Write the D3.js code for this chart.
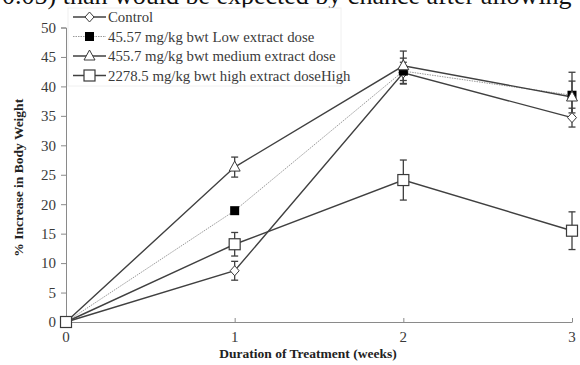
<!DOCTYPE html>
<html>
<head>
<meta charset="utf-8">
<script src="https://cdn.jsdelivr.net/npm/d3@7"></script>
<style>
  html, body { margin: 0; padding: 0; background: #fff; }
  svg { display: block; }
</style>
</head>
<body>
<svg id="chart" width="580" height="365"></svg>
<script>
// Weeks of treatment on the x axis
const weeks = [0, 1, 2, 3];

// Mean % increase in body weight per group
const controlValues = [0, 8.7, 42.3, 34.7];
const lowValues     = [0, 18.9, 42.6, 38.5];
const mediumValues  = [0, 26.3, 43.5, 38.2];
const highValues    = [0, 13.2, 24.1, 15.5];

// Error (± SEM) per group
const controlErr = [0, 1.6, 1.8, 1.6];
const lowErr     = [0, 0, 2.2, 3.9];
const mediumErr  = [0, 1.7, 2.5, 2.7];
const highErr    = [0, 2.0, 3.4, 3.2];

const seriesNames = [
  "Control",
  "45.57 mg/kg bwt Low extract dose",
  "455.7 mg/kg bwt medium extract dose",
  "2278.5 mg/kg bwt high extract doseHigh"
];

const yTicks = [0, 5, 10, 15, 20, 25, 30, 35, 40, 45, 50];
const xTicks = [0, 1, 2, 3];

const series = [
  { name: seriesNames[0], values: controlValues, err: controlErr, marker: "diamond", dotted: false },
  { name: seriesNames[1], values: lowValues, err: lowErr, marker: "filled", dotted: true },
  { name: seriesNames[2], values: mediumValues, err: mediumErr, marker: "triangle", dotted: false },
  { name: seriesNames[3], values: highValues, err: highErr, marker: "square", dotted: false }
];

const svg = d3.select("#chart");
const font = "'Liberation Serif', 'Times New Roman', serif";
const ink = "#3a3a3a";
const axisColor = "#8a8a8a";

// Trailing line of body text above the figure
svg.append("text")
  .attr("x", 2).attr("y", 3.5)
  .attr("font-family", font).attr("font-size", 26)
  .attr("fill", "#111")
  .text("0.05) than would be expected by chance after allowing");

const x = d3.scaleLinear().domain([0, 3]).range([66, 572]);
const y = d3.scaleLinear().domain([0, 50]).range([322, 27.5]);

// Y axis
const yAxis = svg.append("g")
  .attr("transform", `translate(${x(0)},0)`)
  .call(d3.axisLeft(y).tickValues(yTicks).tickSize(5).tickPadding(5).tickFormat(d3.format("d")));
yAxis.attr("font-family", font);
yAxis.selectAll("path, line").attr("stroke", axisColor);
yAxis.selectAll("text").attr("font-family", font).attr("font-size", 15).attr("fill", ink);

// X axis with short inward ticks
const xAxis = svg.append("g")
  .attr("transform", `translate(0,${y(0)})`)
  .call(d3.axisTop(x).tickValues(xTicks).tickSizeInner(4).tickSizeOuter(0).tickFormat(d3.format("d")));
xAxis.selectAll("path, line").attr("stroke", axisColor);
xAxis.selectAll("text").remove();
svg.append("g").selectAll("text")
  .data(xTicks).join("text")
  .attr("x", d => x(d)).attr("y", y(0) + 20)
  .attr("text-anchor", "middle")
  .attr("font-family", font).attr("font-size", 15).attr("fill", ink)
  .text(d => d);

// Axis titles
svg.append("text")
  .attr("transform", `translate(23,${(y(0) + y(50)) / 2 + 3}) rotate(-90)`)
  .attr("text-anchor", "middle")
  .attr("font-family", font).attr("font-size", 13.5).attr("font-weight", "bold").attr("fill", "#222")
  .text("% Increase in Body Weight");
svg.append("text")
  .attr("x", 308).attr("y", 358)
  .attr("text-anchor", "middle")
  .attr("font-family", font).attr("font-size", 13.5).attr("font-weight", "bold").attr("fill", "#222")
  .text("Duration of Treatment (weeks)");

// Marker drawing helper
function drawMarker(g, kind, cx, cy) {
  if (kind === "diamond") {
    g.append("path")
      .attr("d", `M${cx},${cy - 5}L${cx + 4.5},${cy}L${cx},${cy + 5}L${cx - 4.5},${cy}Z`)
      .attr("fill", "#fff").attr("stroke", ink).attr("stroke-width", 1);
  } else if (kind === "filled") {
    g.append("rect").attr("x", cx - 4.5).attr("y", cy - 4.5).attr("width", 9).attr("height", 9)
      .attr("fill", "#000");
  } else if (kind === "triangle") {
    g.append("path")
      .attr("d", `M${cx},${cy - 6}L${cx + 5.5},${cy + 4}L${cx - 5.5},${cy + 4}Z`)
      .attr("fill", "#fff").attr("stroke", ink).attr("stroke-width", 1);
  } else {
    g.append("rect").attr("x", cx - 5.5).attr("y", cy - 5.5).attr("width", 11).attr("height", 11)
      .attr("fill", "#fff").attr("stroke", ink).attr("stroke-width", 1.2);
  }
}

const line = d3.line().x((d, i) => x(weeks[i])).y(d => y(d));
const plot = svg.append("g");

// Lines
series.forEach(s => {
  plot.append("path")
    .datum(s.values)
    .attr("d", line)
    .attr("fill", "none")
    .attr("stroke", s.dotted ? "#9a9a9a" : "#404040")
    .attr("stroke-width", s.dotted ? 1 : 1.4)
    .attr("stroke-dasharray", s.dotted ? "1.5,1" : null);
});

// Error bars
series.forEach(s => {
  s.values.forEach((v, i) => {
    const e = s.err[i];
    if (!e) return;
    const cx = x(weeks[i]);
    const g = plot.append("g").attr("stroke", "#404040").attr("stroke-width", 1.3);
    g.append("line").attr("x1", cx).attr("x2", cx).attr("y1", y(v - e)).attr("y2", y(v + e));
    g.append("line").attr("x1", cx - 3.5).attr("x2", cx + 3.5).attr("y1", y(v + e)).attr("y2", y(v + e));
    g.append("line").attr("x1", cx - 3.5).attr("x2", cx + 3.5).attr("y1", y(v - e)).attr("y2", y(v - e));
  });
});

// Markers
series.forEach(s => {
  s.values.forEach((v, i) => drawMarker(plot, s.marker, x(weeks[i]), y(v)));
});

// Legend
const legend = svg.append("g");
legend.append("rect")
  .attr("x", 68).attr("y", 8).attr("width", 273).attr("height", 78)
  .attr("fill", "#fff").attr("stroke", "#f0f0f0");
series.forEach((s, i) => {
  const ly = 17 + i * 19.5;
  legend.append("line")
    .attr("x1", 73).attr("x2", 106).attr("y1", ly).attr("y2", ly)
    .attr("stroke", s.dotted ? "#9a9a9a" : "#404040")
    .attr("stroke-width", s.dotted ? 1 : 1.4)
    .attr("stroke-dasharray", s.dotted ? "1.5,1" : null);
  drawMarker(legend, s.marker, 89.5, ly);
  legend.append("text")
    .attr("x", 108).attr("y", ly + 5)
    .attr("font-family", font).attr("font-size", 14.8).attr("fill", ink)
    .text(s.name);
});
</script>
</body>
</html>
